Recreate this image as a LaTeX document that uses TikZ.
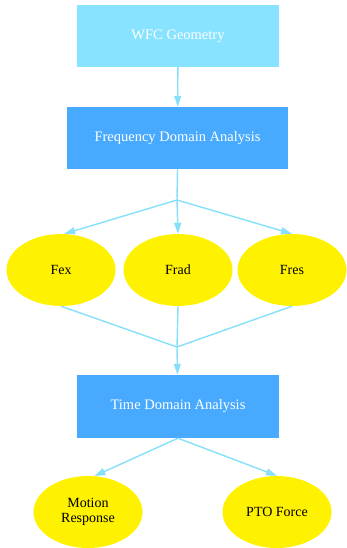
\documentclass[tikz,border=0pt]{standalone}
\usepackage{fontspec}
\setmainfont{Liberation Serif}
\usetikzlibrary{arrows.meta,shapes.geometric}
\definecolor{paleblue}{HTML}{87E3FF}
\definecolor{midblue}{HTML}{47AAFF}
\definecolor{linkblue}{HTML}{86E0FA}
\tikzset{box/.style={rectangle,fill=midblue,text=white,minimum width=202pt,minimum height=62pt,inner sep=0pt},
	oval/.style={ellipse,fill=yellow,minimum width=109pt,minimum height=72pt,inner sep=0pt,align=center,font=\fontsize{14}{15}\selectfont},
	link/.style={draw=linkblue,line width=1.4pt},
	arrow/.style={link,-{Triangle[length=11pt,width=7pt]}},
	every node/.style={font=\fontsize{14.5}{15}\selectfont}}

\begin{document}
\begin{tikzpicture}[x=1pt,y=-1pt]
	\useasboundingbox (0,0) rectangle (346,548);
	% boxes
	\node[box,fill=paleblue] (geom) at (178,36) {WFC Geometry};
	\node[box,minimum width=221pt] (freq) at (177.5,138) {Frequency Domain Analysis};
	\node[box,minimum height=63pt] (time) at (178,406.5) {Time Domain Analysis};
	% forces
	\node[oval] (fex) at (61,270) {Fex};
	\node[oval] (frad) at (178,270) {Frad};
	\node[oval] (fres) at (292,270) {Fres};
	% results
	\node[oval] (motion) at (88,512) {Motion\\Response};
	\node[oval] (pto) at (277,512) {PTO Force};
	\coordinate (split) at (177,200);
	\coordinate (merge) at (177,347);
	% edges
	\draw[arrow] (geom) -- (freq);
	\draw[link] (freq.south) -- (split);
	\draw[arrow] (split) -- (fex.85);
	\draw[arrow] (split) -- (frad.north);
	\draw[arrow] (split) -- (fres.north);
	\draw[link] (fex.south) -- (merge);
	\draw[link] (frad.south) -- (merge);
	\draw[link] (fres.south) -- (merge);
	\draw[arrow] (merge) -- (time);
	\draw[arrow] (time.south) -- (motion.80);
	\draw[arrow] (time.south) -- (pto.north);
\end{tikzpicture}
\end{document}
